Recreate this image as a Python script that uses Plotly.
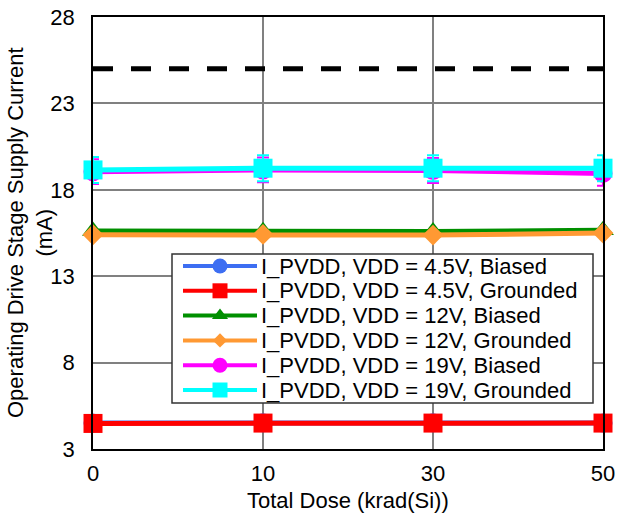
import plotly.graph_objects as go

# Total dose steps (krad(Si)), shown as evenly spaced categories
dose = ["0", "10", "30", "50"]

# Operating drive stage supply current I_PVDD (mA)
i_45_biased = [4.50, 4.52, 4.52, 4.50]
i_45_grounded = [4.48, 4.50, 4.50, 4.50]
i_12_biased = [15.62, 15.60, 15.58, 15.66]
i_12_grounded = [15.40, 15.42, 15.38, 15.50]
i_19_biased = [19.05, 19.15, 19.12, 18.95]
i_19_grounded = [19.15, 19.25, 19.25, 19.25]

# Standard deviation shown on the 19 V series
err_19_biased = [0.72, 0.72, 0.72, 0.72]
err_19_grounded = [0.75, 0.75, 0.75, 0.75]

# Specification limit (mA)
spec_limit = 25

y_ticks = [3, 8, 13, 18, 23, 28]
y_range = [3, 28]

x_title = "Total Dose (krad(Si))"
y_title = "Operating Drive Stage Supply Current<br>(mA)"

labels = [
    "I_PVDD, VDD = 4.5V, Biased",
    "I_PVDD, VDD = 4.5V, Grounded",
    "I_PVDD, VDD = 12V, Biased",
    "I_PVDD, VDD = 12V, Grounded",
    "I_PVDD, VDD = 19V, Biased",
    "I_PVDD, VDD = 19V, Grounded",
]
values = [i_45_biased, i_45_grounded, i_12_biased, i_12_grounded, i_19_biased, i_19_grounded]
errors = [None, None, None, None, err_19_biased, err_19_grounded]
colors = ["#3D6EF2", "#FF0000", "#008F00", "#FF9933", "#FF00FF", "#00FFFF"]
symbols = ["circle", "square", "triangle-up", "diamond", "circle", "square"]
marker_sizes = [19, 19, 19, 16, 19, 19]
key_sizes = [15, 15, 14, 11, 15, 15]

# Plot area in pixels
W, H = 617, 528
ML, MR, MT, MB = 93, 14, 17, 79
PW, PH = W - ML - MR, H - MT - MB

FONT = "Liberation Sans, Arial, sans-serif"

fig = go.Figure()

fig.add_trace(go.Scatter(
    x=[dose[0], dose[-1]], y=[spec_limit, spec_limit],
    mode="lines", showlegend=False, hoverinfo="skip",
    line=dict(color="black", width=5, dash="20px,18px"),
    cliponaxis=False,
))

for name, vals, err, color, symbol, size in zip(labels, values, errors, colors, symbols, marker_sizes):
    fig.add_trace(go.Scatter(
        x=dose, y=vals, name=name, mode="lines+markers", showlegend=False,
        line=dict(color=color, width=5),
        marker=dict(color=color, symbol=symbol, size=size),
        error_y=(dict(type="data", array=err, visible=True, color=color,
                      thickness=2, width=6) if err else None),
        cliponaxis=False,
    ))

# Key layout, in pixels from the plot's top-left corner
box_x0, box_x1, box_y0, box_y1 = 79, 500, 237, 386
row0, row_step = 249, 24.8
key_x0, key_x1, text_x = 90, 164, 166


def cat_x(px):
    """Pixel offset across the plot -> category-axis position."""
    return px / PW * (len(dose) - 1)


def val_y(py):
    """Pixel offset down the plot -> current value on the y axis."""
    return y_range[1] - py / PH * (y_range[1] - y_range[0])


# White key box sits above the grid but beneath every trace
fig.add_shape(type="rect", xref="x", yref="y", layer="between",
              x0=cat_x(box_x0), x1=cat_x(box_x1), y0=val_y(box_y0), y1=val_y(box_y1),
              fillcolor="white", line=dict(color="#333333", width=1.5))

for i, (name, color, symbol, ks) in enumerate(zip(labels, colors, symbols, key_sizes)):
    ry = row0 + i * row_step
    fig.add_trace(go.Scatter(
        x=[key_x0, key_x1], y=[ry, ry], xaxis="x2", yaxis="y2",
        mode="lines", showlegend=False, hoverinfo="skip",
        line=dict(color=color, width=4),
    ))
    fig.add_trace(go.Scatter(
        x=[(key_x0 + key_x1) / 2], y=[ry], xaxis="x2", yaxis="y2",
        mode="markers", showlegend=False, hoverinfo="skip",
        marker=dict(color=color, symbol=symbol, size=ks),
    ))
    fig.add_annotation(
        x=text_x, y=ry, xref="x2", yref="y2", text=name, showarrow=False,
        xanchor="left", yanchor="middle", font=dict(family=FONT, size=22, color="black"),
    )

# Axis titles, placed in paper space
fig.add_annotation(
    x=0.5, y=-51 / PH, xref="paper", yref="paper",
    text=x_title, showarrow=False, xanchor="center", yanchor="middle",
    font=dict(family=FONT, size=22, color="black"),
)
fig.add_annotation(
    x=(30 - ML) / PW, y=0.5, xref="paper", yref="paper",
    text=y_title, showarrow=False, textangle=-90, xanchor="center", yanchor="middle",
    font=dict(family=FONT, size=22, color="black"),
)

fig.update_layout(
    width=W, height=H,
    margin=dict(l=ML, r=MR, t=MT, b=MB, autoexpand=False),
    paper_bgcolor="white", plot_bgcolor="white",
    font=dict(family=FONT, size=22, color="black"),
    showlegend=False,
    xaxis=dict(
        type="category", range=[0, 3], categoryorder="array", categoryarray=dose,
        showgrid=True, gridcolor="#808080", gridwidth=1.5,
        showline=True, linecolor="black", linewidth=1.5, mirror=True,
        ticks="", ticklabelstandoff=4, tickfont=dict(family=FONT, size=22),
        zeroline=False, automargin=False,
    ),
    yaxis=dict(
        range=y_range, tickvals=y_ticks,
        showgrid=True, gridcolor="#808080", gridwidth=1.5,
        showline=True, linecolor="black", linewidth=1.5, mirror=True,
        ticks="", ticklabelstandoff=12, tickfont=dict(family=FONT, size=22),
        zeroline=False, automargin=False,
    ),
    xaxis2=dict(overlaying="x", range=[0, PW], visible=False, fixedrange=True),
    yaxis2=dict(overlaying="y", range=[PH, 0], visible=False, fixedrange=True),
)

fig.write_html("out.html")
